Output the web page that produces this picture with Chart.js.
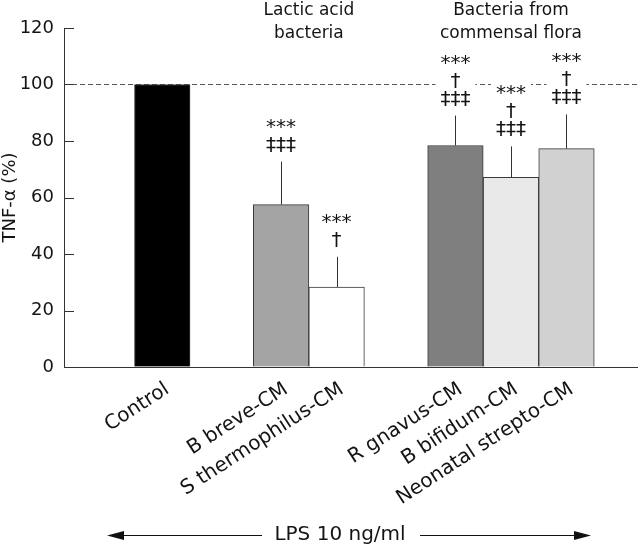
<!DOCTYPE html>
<html>
<head>
<meta charset="utf-8">
<script src="https://cdn.jsdelivr.net/npm/chart.js@4.4.1/dist/chart.umd.min.js"></script>
<style>
html,body{margin:0;padding:0;background:#fff;}
#wrap{width:640px;height:547px;position:relative;}
</style>
</head>
<body>
<div id="wrap"><canvas id="c" width="640" height="547"></canvas></div>
<script>
// ---- data ----
const categories = ['Control', 'B breve-CM', 'S thermophilus-CM', 'R gnavus-CM', 'B bifidum-CM', 'Neonatal strepto-CM'];
const groupIndex = [0, 1, 1, 2, 2, 2];
const tnfPercent = [100, 57.5, 28.3, 78.4, 67.1, 77.3];
const errorTop = [null, 72.7, 39.0, 89.0, 78.1, 89.4];
const significance = [[], ['***', '‡‡‡'], ['***', '†'], ['***', '†', '‡‡‡'], ['***', '†', '‡‡‡'], ['***', '†', '‡‡‡']];
const groupTitles = [null, ['Lactic acid', 'bacteria'], ['Bacteria from', 'commensal flora']];
const yTickValues = [0, 20, 40, 60, 80, 100, 120];
const referenceLevel = 100;
const yTitle = 'TNF-α (%)';
const treatmentLabel = 'LPS 10 ng/ml';

// ---- styles ----
const barColors = ['#000000', '#a4a4a4', '#ffffff', '#7f7f7f', '#e9e9e9', '#d1d1d1'];
const FONT = 'DejaVu Sans';
const INK = '#141414';

// ---- layout (in bar-width units) ----
const LEFT_PAD = 1.27, GROUP_GAP = 1.14, RIGHT_PAD = 0.77;
const xPos = [];
(function () {
  let p = LEFT_PAD + 0.5;
  for (let i = 0; i < categories.length; i++) {
    xPos.push(p);
    if (i < categories.length - 1) p += 1 + (groupIndex[i + 1] !== groupIndex[i] ? GROUP_GAP : 0);
  }
})();
const xMax = xPos[xPos.length - 1] + 0.5 + RIGHT_PAD;

const decorations = {
  id: 'decorations',
  beforeDatasetsDraw(chart) {
    const {ctx, chartArea, scales: {y}} = chart;
    const py = Math.round(y.getPixelForValue(referenceLevel)) + 0.5;
    ctx.save();
    ctx.strokeStyle = '#555';
    ctx.lineWidth = 1;
    ctx.setLineDash([5, 3]);
    ctx.beginPath();
    ctx.moveTo(chartArea.left, py);
    ctx.lineTo(chartArea.right, py);
    ctx.stroke();
    ctx.restore();
  },
  afterDatasetsDraw(chart) {
    const {ctx, chartArea, scales: {x, y}} = chart;
    const meta = chart.getDatasetMeta(0);
    ctx.save();
    // error bars
    ctx.strokeStyle = '#333';
    ctx.lineWidth = 1;
    meta.data.forEach((bar, i) => {
      if (errorTop[i] == null) return;
      const bx = Math.round(bar.x) + 0.5;
      ctx.beginPath();
      ctx.moveTo(bx, bar.y);
      ctx.lineTo(bx, y.getPixelForValue(errorTop[i]));
      ctx.stroke();
    });
    // significance marks
    ctx.font = '20px "' + FONT + '"';
    ctx.textAlign = 'center';
    ctx.textBaseline = 'alphabetic';
    meta.data.forEach((bar, i) => {
      const lines = significance[i];
      if (!lines.length) return;
      const top = errorTop[i] != null ? errorTop[i] : tnfPercent[i];
      const base = y.getPixelForValue(top) - 11;
      const pitch = 18;
      const n = lines.length;
      let w = 0;
      lines.forEach(t => { w = Math.max(w, ctx.measureText(t).width); });
      ctx.fillStyle = '#fff';
      ctx.fillRect(bar.x - w / 2 - 5, base - (n - 1) * pitch - 17, w + 10, (n - 1) * pitch + 20);
      ctx.fillStyle = INK;
      lines.forEach((t, k) => {
        ctx.fillText(t, bar.x, base - (n - 1 - k) * pitch);
      });
    });
    // inward y ticks
    ctx.strokeStyle = '#333';
    yTickValues.forEach(v => {
      const py = Math.round(y.getPixelForValue(v)) + 0.5;
      ctx.beginPath();
      ctx.moveTo(chartArea.left, py);
      ctx.lineTo(chartArea.left + 10, py);
      ctx.stroke();
    });
    // group titles
    ctx.fillStyle = INK;
    ctx.font = '17px "' + FONT + '"';
    ctx.textAlign = 'center';
    ctx.textBaseline = 'middle';
    groupTitles.forEach((title, g) => {
      if (!title) return;
      const idx = groupIndex.map((gi, i) => gi === g ? i : -1).filter(i => i >= 0);
      const cx = (meta.data[idx[0]].x + meta.data[idx[idx.length - 1]].x) / 2;
      title.forEach((t, k) => ctx.fillText(t, cx, 11 + k * 23));
    });
    // rotated category labels
    ctx.font = '20px "' + FONT + '"';
    ctx.textAlign = 'right';
    ctx.textBaseline = 'alphabetic';
    const ang = 33 * Math.PI / 180;
    categories.forEach((c, i) => {
      const px = x.getPixelForValue(xPos[i]);
      ctx.save();
      ctx.translate(px + 8, chartArea.bottom + 25);
      ctx.rotate(-ang);
      ctx.fillText(c, 0, 0);
      ctx.restore();
    });
    // LPS arrow
    const ay = 535.5;
    ctx.font = '20px "' + FONT + '"';
    ctx.textAlign = 'center';
    ctx.textBaseline = 'middle';
    ctx.fillText(treatmentLabel, 340, ay - 1);
    ctx.strokeStyle = '#111';
    ctx.beginPath();
    ctx.moveTo(120, ay); ctx.lineTo(262, ay);
    ctx.moveTo(420, ay); ctx.lineTo(578, ay);
    ctx.stroke();
    ctx.fillStyle = '#111';
    ctx.beginPath();
    ctx.moveTo(107, ay); ctx.lineTo(124, ay - 4.5); ctx.lineTo(124, ay + 4.5); ctx.closePath();
    ctx.moveTo(591, ay); ctx.lineTo(574, ay - 4.5); ctx.lineTo(574, ay + 4.5); ctx.closePath();
    ctx.fill();
    ctx.restore();
  }
};

new Chart(document.getElementById('c').getContext('2d'), {
  type: 'bar',
  data: {
    datasets: [{
      data: categories.map((c, i) => ({x: xPos[i], y: tnfPercent[i]})),
      backgroundColor: barColors,
      borderColor: '#3a3a3a',
      borderWidth: 1,
      barPercentage: 1,
      categoryPercentage: 1
    }]
  },
  options: {
    responsive: false,
    animation: false,
    devicePixelRatio: 1,
    layout: {padding: {top: 28, right: 3, left: 0, bottom: 0}},
    plugins: {legend: {display: false}, tooltip: {enabled: false}},
    scales: {
      x: {
        type: 'linear', min: 0, max: xMax, offset: false,
        grid: {drawOnChartArea: false, drawTicks: false},
        border: {display: true, color: '#333', width: 1},
        ticks: {display: false},
        afterFit(s) { s.height = 180; }
      },
      y: {
        min: 0, max: 120,
        afterBuildTicks(s) { s.ticks = yTickValues.map(v => ({value: v})); },
        grid: {drawOnChartArea: false, drawTicks: false},
        border: {display: true, color: '#333', width: 1},
        ticks: {font: {family: FONT, size: 18}, color: INK, padding: 10},
        title: {display: true, text: yTitle, font: {family: FONT, size: 18}, color: INK, padding: {top: 0, bottom: 0}},
        afterFit(s) { s.width = 64; }
      }
    }
  },
  plugins: [decorations]
});
</script>
</body>
</html>
